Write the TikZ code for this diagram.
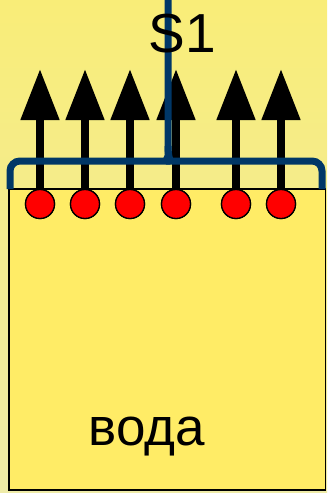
\documentclass[tikz,border=0pt]{standalone}
\usepackage{fontspec}
\setmainfont{Liberation Sans}
\usetikzlibrary{arrows.meta}
\definecolor{bgtop}{RGB}{249,237,120}
\definecolor{bgbot}{RGB}{238,235,168}
\definecolor{water}{RGB}{255,236,102}
\definecolor{bracecol}{RGB}{0,55,103}
\tikzset{
  ball/.style={circle, draw=black, line width=1.3pt, fill=red, minimum size=29pt, inner sep=0pt},
  shaft/.style={line width=8pt, -{Triangle[width=37pt,length=51pt]}},
  bracket/.style={draw=bracecol, line width=7pt, line cap=butt},
  label/.style={inner sep=0pt, anchor=base, text=black}
}
\begin{document}
\begin{tikzpicture}[x=1pt,y=-1pt]
  % background
  \shade[top color=bgtop, bottom color=bgbot] (0,0) rectangle (327,493);
  \useasboundingbox (0,0) rectangle (327,493);
  % water body
  \draw[fill=water, line width=1.5pt] (9,189) rectangle (325.5,490);
  % particles
  \foreach \i/\x in {1/40,2/85,3/130,4/176,5/236,6/281} {
    \node[ball] (c\i) at (\x,204) {};
    \coordinate (t\i) at (\x,69);
  }
  \foreach \i in {1,...,6} {
    \draw[shaft] (c\i.center) -- (t\i);
  }
  % brace over the surface
  \draw[bracket, rounded corners=10pt] (10,189) -- (10,161) -- (156,161)
    .. controls (165,161) and (168,158) .. (168,146) -- (168,-4);
  \draw[bracket, rounded corners=10pt] (168,146)
    .. controls (168,158) and (171,161) .. (180,161) -- (322,161) -- (322,189);
  \foreach \i in {1,...,6} {
    \node[ball] at (c\i) {};
  }
  % labels
  \node[label, font=\fontsize{55}{55}\selectfont] (s1) at (182,52) {S1};
  \node[label, font=\fontsize{53}{53}\selectfont] (voda) at (147,445) {вода};
\end{tikzpicture}
\end{document}
